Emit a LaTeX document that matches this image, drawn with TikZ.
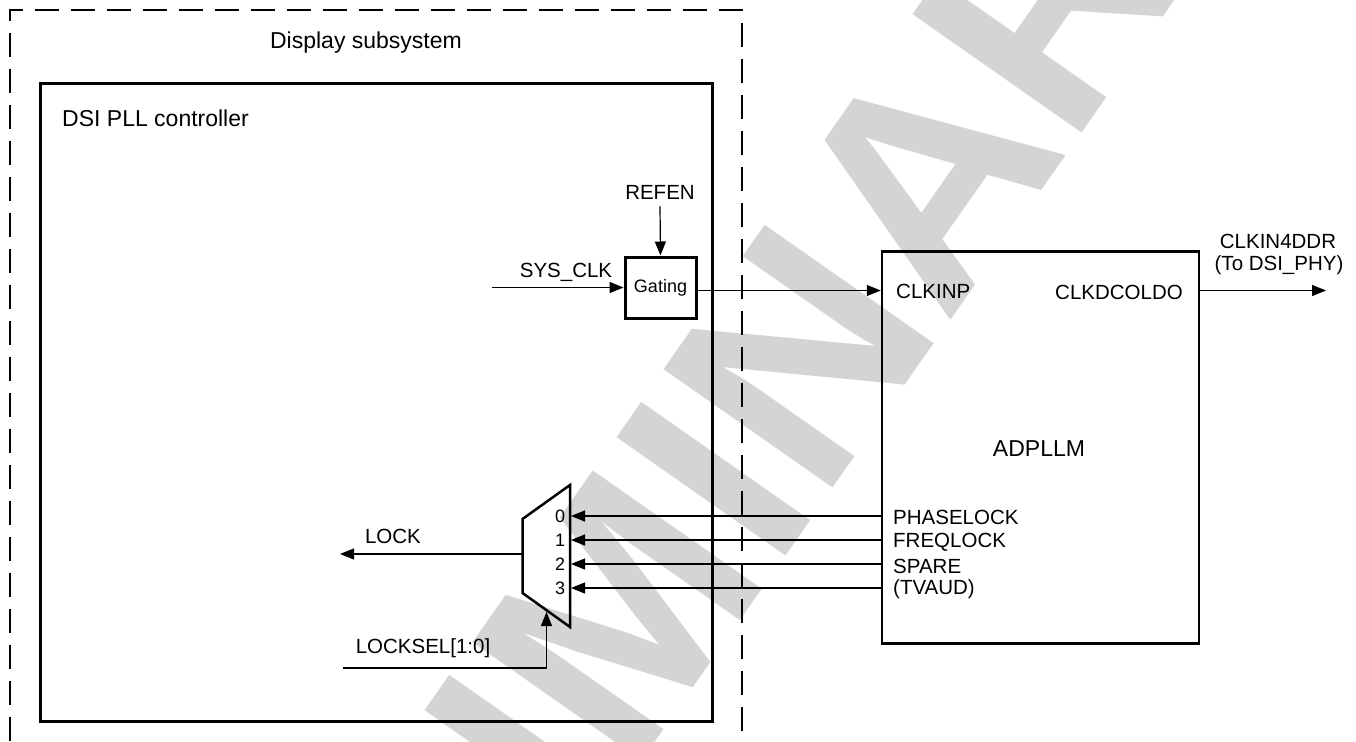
\documentclass[tikz,border=0pt]{standalone}
\usepackage{fontspec}
\setmainfont{Liberation Sans}
\usetikzlibrary{arrows.meta}
\begin{document}
\begin{tikzpicture}[x=1pt,y=-1pt,
  lbl/.style={font=\fontsize{20.5}{22}\selectfont, inner sep=0pt},
  ttl/.style={font=\fontsize{23}{25}\selectfont, inner sep=0pt},
  small/.style={font=\fontsize{18}{20}\selectfont, inner sep=0pt},
  thickbox/.style={draw, line width=3pt},
  conn/.style={line width=1.2pt, -{Triangle[length=14pt,width=11pt]}},
  plain/.style={line width=1.2pt}]
\useasboundingbox (0,0) rectangle (1356,741);
% watermark
\begin{scope}
\clip (0,0) rectangle (1356,741);
\node[rotate=55, text=black!17, font=\fontsize{300}{300}\selectfont\bfseries, inner sep=0pt] (wm) at (629,600) {PRELIMINARY};
\end{scope}
% display subsystem (dashed, open at the bottom)
\draw[line width=2pt, dash pattern=on 24pt off 12pt] (10,741) -- (10,10) -- (742,10) -- (742,741);
\node[ttl] (dss) at (366,43) {Display subsystem};
% DSI PLL controller
\draw[thickbox] (40,84) rectangle (712,721);
\node[ttl, anchor=west] (dsi) at (62,118) {DSI PLL controller};
% gating
\node[thickbox, minimum width=71pt, minimum height=61pt, inner sep=0pt] (gate) at (660.5,287.5) {};
\node[small] (gtxt) at (660.5,287.5) {Gating};
\node[lbl] (refen) at (660,192) {REFEN};
\draw[conn] (refen.south) ++(0,7) coordinate (rf) -- (gate.north);
\coordinate (sysin) at (492,287.5);
\draw[conn] (sysin) -- (gate.west);
\node[lbl] (sysclk) at (566,272) {SYS\_CLK};
% ADPLLM
\node[draw, line width=2.5pt, minimum width=317pt, minimum height=392pt, inner sep=0pt] (pll) at (1040.5,447.5) {};
\node[ttl] (pllt) at (1039,449) {ADPLLM};
\node[lbl, anchor=west] (clkinp) at (896,291) {CLKINP};
\node[lbl, anchor=east] (clkdco) at (1183,292) {CLKDCOLDO};
\draw[conn] (gate.east |- 0,290.5) -- (pll.west |- 0,290.5);
\coordinate (outend) at (1326,290.5);
\draw[conn] (pll.east |- 0,290.5) -- (outend);
\node[lbl] (ck4) at (1278,241) {CLKIN4DDR};
\node[lbl] (tophy) at (1279,265) {(To DSI\_PHY)};
% mux
\coordinate (m1) at (522.5,519);
\coordinate (m2) at (570,485);
\coordinate (m3) at (570,627);
\coordinate (m4) at (522.5,593);
\draw[line width=2.5pt, line join=miter] (m1) -- (m2) -- (m3) -- (m4) -- cycle;
\node[small] (d0) at (560,516) {0};
\node[small] (d1) at (560,540) {1};
\node[small] (d2) at (560,564) {2};
\node[small] (d3) at (560,588) {3};
\coordinate (i0) at (571,516);
\coordinate (i1) at (571,540);
\coordinate (i2) at (571,564);
\coordinate (i3) at (571,588);
\draw[conn] (pll.west |- i0) -- (i0);
\draw[conn] (pll.west |- i1) -- (i1);
\draw[conn] (pll.west |- i2) -- (i2);
\draw[conn] (pll.west |- i3) -- (i3);
\node[lbl, anchor=west] (phl) at (893,517) {PHASELOCK};
\node[lbl, anchor=west] (frl) at (893,542) {FREQLOCK};
\node[lbl, anchor=west] (spr) at (893,566) {SPARE};
\node[lbl, anchor=west] (tva) at (893,589) {(TVAUD)};
% LOCK output
\coordinate (lockout) at (340,554);
\draw[conn] (522.5,554) -- (lockout);
\node[lbl] (lock) at (393,536) {LOCK};
% LOCKSEL
\coordinate (lsin) at (343,668);
\coordinate (lsup) at (546.5,612);
\draw[plain] (lsin) -- (546.5,668);
\draw[conn] (546.5,668.6) -- (lsup);
\node[lbl] (locksel) at (423,648) {LOCKSEL[1:0]};
\end{tikzpicture}
\end{document}
